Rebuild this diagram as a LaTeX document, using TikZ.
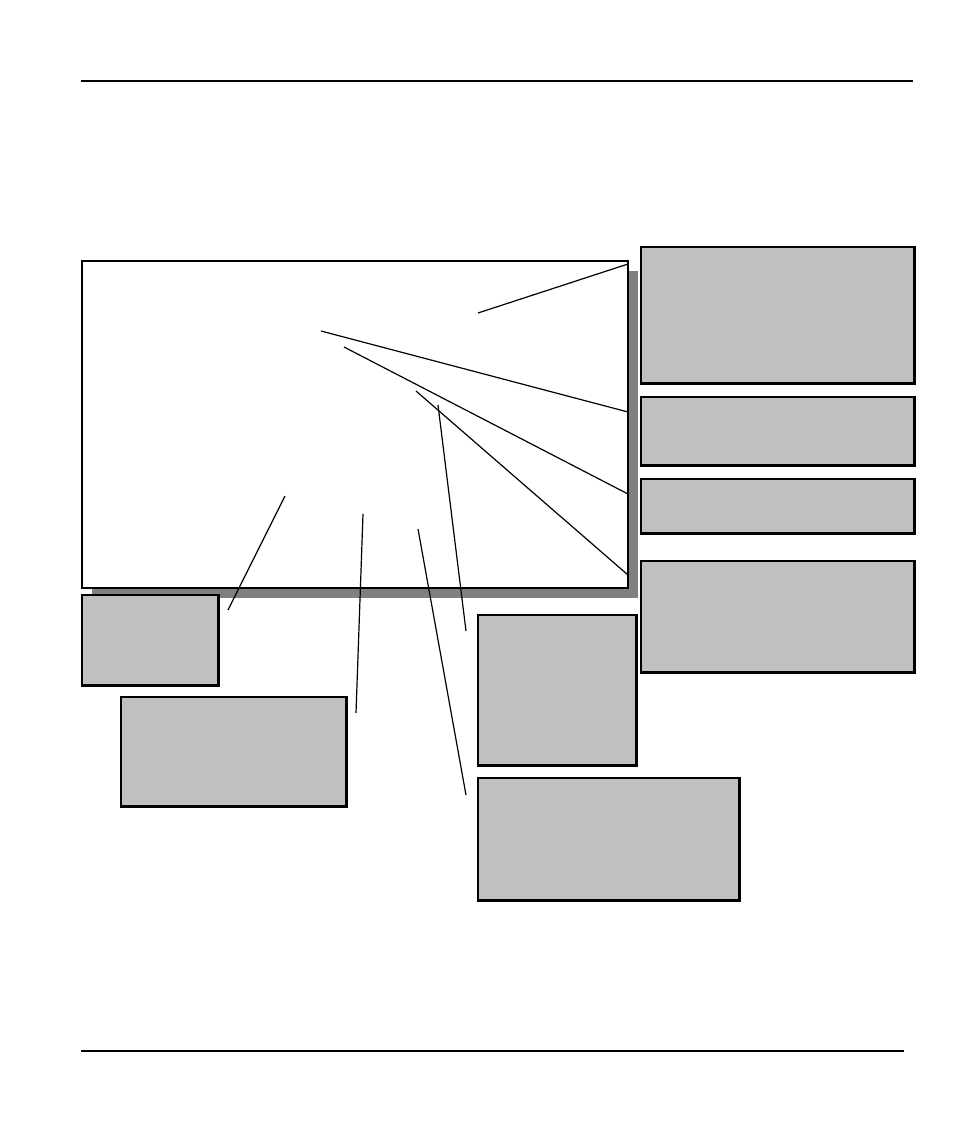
\documentclass[tikz,border=0pt]{standalone}
\begin{document}
\begin{tikzpicture}[x=1pt,y=-1pt,
  callout/.style={draw=black,line width=1.6pt,fill=boxgray,inner sep=0pt,anchor=north west},
  leader/.style={draw=black,line width=1.2pt},
  rule/.style={draw=black,line width=1.4pt},
  edge/.style={draw=black,line width=2.4pt}]
\definecolor{boxgray}{HTML}{C0C0C0}
\definecolor{shadowgray}{HTML}{808080}
\useasboundingbox (0,0) rectangle (954,1132);
% rules
\coordinate (t1) at (81,81); \coordinate (t2) at (913,81);
\coordinate (b1) at (81,1051); \coordinate (b2) at (904,1051);
\draw[rule] (t1) -- (t2);
\draw[rule] (b1) -- (b2);
% main window with shadow
\node[fill=shadowgray,inner sep=0pt,anchor=north west,minimum width=546pt,minimum height=327pt] (shadow) at (92,271) {};
\node[draw=black,line width=1.6pt,fill=white,inner sep=0pt,anchor=north west,minimum width=546pt,minimum height=327pt] (main) at (81,260) {};
% callout boxes
\node[callout,minimum width=273pt,minimum height=136pt] (r1) at (640,246) {};
\node[callout,minimum width=273pt,minimum height=68pt] (r2) at (640,396) {};
\node[callout,minimum width=273pt,minimum height=54pt] (r3) at (640,478) {};
\node[callout,minimum width=273pt,minimum height=111pt] (r4) at (640,560) {};
\node[callout,minimum width=136pt,minimum height=90pt] (l1) at (81,594) {};
\node[callout,minimum width=225pt,minimum height=109pt] (l2) at (120,696) {};
\node[callout,minimum width=158pt,minimum height=150pt] (m1) at (477,614) {};
\node[callout,minimum width=261pt,minimum height=122pt] (m2) at (477,777) {};
% heavier right and bottom edges
\foreach \n in {r1,r2,r3,r4,l1,l2,m1,m2}
  {\draw[edge,line cap=square] (\n.north east) -- (\n.south east) -- (\n.south west);}
% leader lines
\coordinate (a1) at (478,313); \coordinate (e1) at (628,264);
\coordinate (a2) at (321,331); \coordinate (e2) at (628,412);
\coordinate (a3) at (344,347); \coordinate (e3) at (628,494);
\coordinate (a4) at (416,391); \coordinate (e4) at (628,575);
\coordinate (a5) at (438,405); \coordinate (e5) at (466,631);
\coordinate (a6) at (285,496); \coordinate (e6) at (228,610);
\coordinate (a7) at (363,514); \coordinate (e7) at (356,713);
\coordinate (a8) at (418,529); \coordinate (e8) at (466,795);
\foreach \i in {1,...,8} {\draw[leader] (a\i) -- (e\i);}
\end{tikzpicture}
\end{document}
